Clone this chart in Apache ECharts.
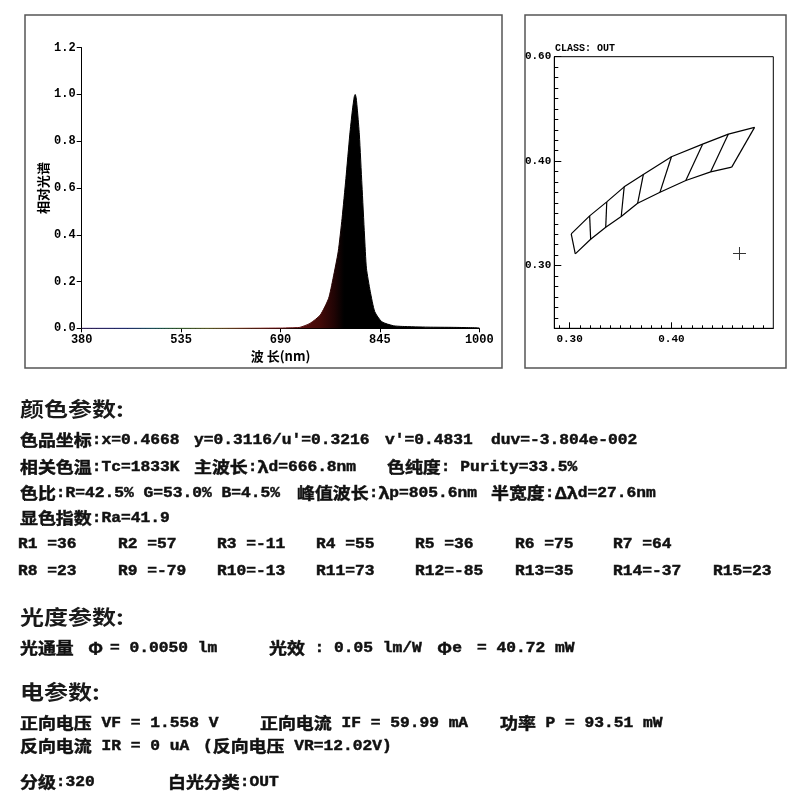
<!DOCTYPE html>
<html>
<head>
<meta charset="utf-8">
<script src="https://cdn.jsdelivr.net/npm/echarts@6/dist/echarts.min.js"></script>
<style>
html, body { margin: 0; padding: 0; background: #fff; }
#chart { width: 800px; height: 800px; }
</style>
</head>
<body>
<div id="chart"></div>
<script>
// relative spectrum
var wavelength = [380, 500, 600, 690, 705, 720, 736, 752, 765, 772, 780, 786, 792, 798, 802, 805, 806.5, 808, 810, 813, 817, 821, 824, 830, 837, 848, 866, 880, 920, 960, 1000];
var intensity = [0, 0, 0, 0.001, 0.002, 0.004, 0.021, 0.057, 0.128, 0.214, 0.328, 0.470, 0.641, 0.827, 0.93, 0.99, 1.0, 0.985, 0.93, 0.827, 0.613, 0.399, 0.257, 0.157, 0.071, 0.028, 0.011, 0.008, 0.005, 0.004, 0.002];
var specXTicks = [380, 535, 690, 845, 1000];

// chromaticity bins: corners on the upper and lower edge
var binTopX = [0.3016, 0.3197, 0.3365, 0.3536, 0.3724, 0.4000, 0.4306, 0.4559, 0.4816];
var binTopY = [0.3304, 0.3476, 0.3610, 0.3754, 0.3872, 0.4042, 0.4163, 0.4259, 0.4323];
var binBotX = [0.3056, 0.3207, 0.3355, 0.3507, 0.3668, 0.3888, 0.4141, 0.4385, 0.4592];
var binBotY = [0.3112, 0.3252, 0.3367, 0.3470, 0.3597, 0.3703, 0.3815, 0.3898, 0.3943];
var measuredPoint = [[0.4668, 0.3116]];
var cieXTicks = [0.30, 0.40];
var cieYTicks = [0.30, 0.40, 0.50];
var cieYTickText = ['0.30', '0.40', '0.60'];

// report text
var colorTitle = '颜色参数:';
var colorLine1 = ['色品坐标:x=0.4668', "y=0.3116/u'=0.3216", "v'=0.4831", 'duv=-3.804e-002'];
var colorLine2 = ['相关色温:Tc=1833K', '主波长:λd=666.8nm', '色纯度: Purity=33.5%'];
var colorLine3 = ['色比:R=42.5% G=53.0% B=4.5%', '峰值波长:λp=805.6nm', '半宽度:Δλd=27.6nm'];
var colorLine4 = ['显色指数:Ra=41.9'];
var renderNames = ['R1', 'R2', 'R3', 'R4', 'R5', 'R6', 'R7', 'R8', 'R9', 'R10', 'R11', 'R12', 'R13', 'R14', 'R15'];
var renderValues = [36, 57, -11, 55, 36, 75, 64, 23, -79, -13, 73, -85, 35, -37, 23];
var photoTitle = '光度参数:';
var photoLine = ['光通量', 'Φ', '= 0.0050 lm', '光效 : 0.05 lm/W', 'Φe', '= 40.72 mW'];
var elecTitle = '电参数:';
var elecLine1 = ['正向电压 VF = 1.558 V', '正向电流 IF = 59.99 mA', '功率 P = 93.51 mW'];
var elecLine2 = ['反向电流 IR = 0 uA', '(反向电压 VR=12.02V)'];
var gradeLine = ['分级:320', '白光分类:OUT'];

var MONO = 'Liberation Mono';
var CJK = 'Noto Sans CJK SC';

var chart = echarts.init(document.getElementById('chart'));

var specColor = new echarts.graphic.LinearGradient(0, 0, 1, 0, [
    { offset: 0, color: '#5a3a90' },
    { offset: 0.113, color: '#3848b0' },
    { offset: 0.194, color: '#308888' },
    { offset: 0.242, color: '#509050' },
    { offset: 0.323, color: '#909040' },
    { offset: 0.403, color: '#a05030' },
    { offset: 0.484, color: '#801818' },
    { offset: 0.548, color: '#5a1010' },
    { offset: 0.60, color: '#420a08' },
    { offset: 0.635, color: '#200404' },
    { offset: 0.66, color: '#000' },
    { offset: 1, color: '#000' }
]);

var minorX = [], minorY = [];
for (var k = 29; k <= 49; k++) minorX.push(k / 100);
for (var k2 = 25; k2 <= 49; k2++) minorY.push(k2 / 100);

function cieYLabel(v) {
    for (var i = 0; i < cieYTicks.length; i++) {
        if (Math.abs(cieYTicks[i] - v) < 1e-6) return cieYTickText[i];
    }
    return '';
}

var series = [{
    type: 'line',
    xAxisIndex: 0,
    yAxisIndex: 0,
    data: wavelength.map(function (w, i) { return [w, intensity[i]]; }),
    symbol: 'none',
    smooth: 0.2,
    lineStyle: { width: 1, color: specColor },
    areaStyle: { color: specColor, opacity: 1 },
    z: 3
}];

function cieLine(pts) {
    return {
        type: 'line', xAxisIndex: 1, yAxisIndex: 1, data: pts,
        symbol: 'none', lineStyle: { color: '#000', width: 1.2 }, z: 3
    };
}
series.push(cieLine(binTopX.map(function (x, i) { return [x, binTopY[i]]; })));
series.push(cieLine(binBotX.map(function (x, i) { return [x, binBotY[i]]; })));
for (var b = 0; b < binTopX.length; b++) {
    series.push(cieLine([[binTopX[b], binTopY[b]], [binBotX[b], binBotY[b]]]));
}
series.push({
    type: 'scatter', xAxisIndex: 1, yAxisIndex: 1, data: measuredPoint,
    symbol: 'path://M6,0h1v13h-1zM0,6h13v1h-13z', symbolSize: 13,
    itemStyle: { color: '#000' }, z: 4
});

// text block below the charts
function cjkWrap(s) {
    return s.replace(/([\u0391-\u03c9\u3000-\u9fff\uff00-\uffef]+)/g, '{c|$1}');
}
function bodyText(x, y, s) {
    return {
        type: 'text', x: x, y: y, scaleX: 1.12,
        style: {
            text: cjkWrap(s), fontFamily: MONO, fontSize: 14.5, fontWeight: 'bold',
            fill: '#111', stroke: '#111', lineWidth: 0.45, verticalAlign: 'middle',
            rich: { c: { fontFamily: CJK, fontSize: 16, fontWeight: 'bold', fill: '#111' } }
        }
    };
}
function titleText(y, s) {
    return {
        type: 'text', x: 20, y: y, scaleX: 1.2,
        style: { text: s, fontFamily: CJK, fontSize: 20, fontWeight: 'bold', fill: '#1a1a1a', verticalAlign: 'middle' }
    };
}
function row(y, cols, texts) {
    return texts.map(function (t, i) { return bodyText(cols[i], y, t); });
}

var graphics = [
    { type: 'rect', shape: { x: 25, y: 15, width: 477, height: 353 }, style: { fill: 'none', stroke: '#555', lineWidth: 1.5 } },
    { type: 'rect', shape: { x: 525, y: 15, width: 261, height: 353 }, style: { fill: 'none', stroke: '#555', lineWidth: 1.5 } },
    { type: 'text', x: 555, y: 48, style: { text: 'CLASS: OUT', fontFamily: MONO, fontSize: 10, fontWeight: 'bold', fill: '#000', verticalAlign: 'middle' } },
    titleText(409, colorTitle),
    titleText(617, photoTitle),
    titleText(692, elecTitle)
];
graphics = graphics
    .concat(row(440, [20, 194, 385, 491], colorLine1))
    .concat(row(467, [20, 194, 387], colorLine2))
    .concat(row(493, [20, 297, 491], colorLine3))
    .concat(row(518, [20], colorLine4));

var rCols = [18, 118, 217, 316, 415, 515, 613, 713];
renderNames.forEach(function (n, i) {
    var label = (n + '   ').slice(0, 3) + '=' + renderValues[i];
    var onFirst = i < 7;
    graphics.push(bodyText(rCols[onFirst ? i : i - 7], onFirst ? 544 : 571, label));
});
graphics = graphics
    .concat(row(648, [20, 88, 110, 269, 437, 477], photoLine))
    .concat(row(723, [20, 260, 500], elecLine1))
    .concat(row(746, [20, 203], elecLine2))
    .concat(row(782, [20, 168], gradeLine));

var monoLabel = { fontFamily: MONO, fontWeight: 'bold', color: '#000' };

chart.setOption({
    animation: false,
    backgroundColor: '#fff',
    grid: [
        { left: 81.7, top: 47.7, width: 397.6, height: 280.6, outerBoundsMode: 'none' },
        { left: 554.3, top: 56.7, width: 219, height: 271.6, outerBoundsMode: 'none',
          show: true, borderColor: '#000', borderWidth: 1, backgroundColor: 'transparent' }
    ],
    xAxis: [{
        type: 'value', gridIndex: 0, min: 380, max: 1000,
        axisLine: { show: true, onZero: false, lineStyle: { color: '#000', width: 1 } },
        axisTick: { show: true, customValues: specXTicks, length: 4, lineStyle: { color: '#000' } },
        axisLabel: Object.assign({ customValues: specXTicks, margin: 6, fontSize: 12,
            formatter: function (v) { return String(v); } }, monoLabel),
        splitLine: { show: false },
        name: '波 长(nm)', nameLocation: 'middle', nameGap: 21, nameMoveOverlap: false,
        nameTextStyle: { fontFamily: CJK, fontWeight: 'bold', fontSize: 13, color: '#000' }
    }, {
        type: 'value', gridIndex: 1, min: 0.285, max: 0.5, position: 'bottom',
        axisLine: { show: true, onZero: false, lineStyle: { color: '#000', width: 1 } },
        axisTick: { show: true, inside: true, customValues: minorX, length: 3, lineStyle: { color: '#000' } },
        axisLabel: { show: false },
        splitLine: { show: false }
    }, {
        type: 'value', gridIndex: 1, min: 0.285, max: 0.5, position: 'bottom',
        axisLine: { show: false },
        axisTick: { show: true, inside: true, customValues: cieXTicks, length: 6, lineStyle: { color: '#000' } },
        axisLabel: Object.assign({ customValues: cieXTicks, margin: 5, fontSize: 11,
            formatter: function (v) { return v.toFixed(2); } }, monoLabel),
        splitLine: { show: false }
    }],
    yAxis: [{
        type: 'value', gridIndex: 0, min: 0, max: 1.2, interval: 0.2,
        axisLine: { show: true, onZero: false, lineStyle: { color: '#000', width: 1 } },
        axisTick: { show: true, length: 5, lineStyle: { color: '#000' } },
        axisLabel: Object.assign({ margin: 6, fontSize: 12,
            formatter: function (v) { return v.toFixed(1); } }, monoLabel),
        splitLine: { show: false },
        name: '相对光谱', nameLocation: 'middle', nameRotate: 90, nameGap: 32, nameMoveOverlap: false,
        nameTextStyle: { fontFamily: CJK, fontWeight: 'bold', fontSize: 13, color: '#000' }
    }, {
        type: 'value', gridIndex: 1, min: 0.24, max: 0.5, position: 'left',
        axisLine: { show: true, onZero: false, lineStyle: { color: '#000', width: 1 } },
        axisTick: { show: true, inside: true, customValues: minorY, length: 4, lineStyle: { color: '#000' } },
        axisLabel: { show: false },
        splitLine: { show: false }
    }, {
        type: 'value', gridIndex: 1, min: 0.24, max: 0.5, position: 'left',
        axisLine: { show: false },
        axisTick: { show: true, inside: true, customValues: cieYTicks, length: 7, lineStyle: { color: '#000' } },
        axisLabel: Object.assign({ customValues: cieYTicks, margin: 3, fontSize: 11,
            formatter: cieYLabel }, monoLabel),
        splitLine: { show: false }
    }],
    series: series,
    graphic: graphics
});
</script>
</body>
</html>
